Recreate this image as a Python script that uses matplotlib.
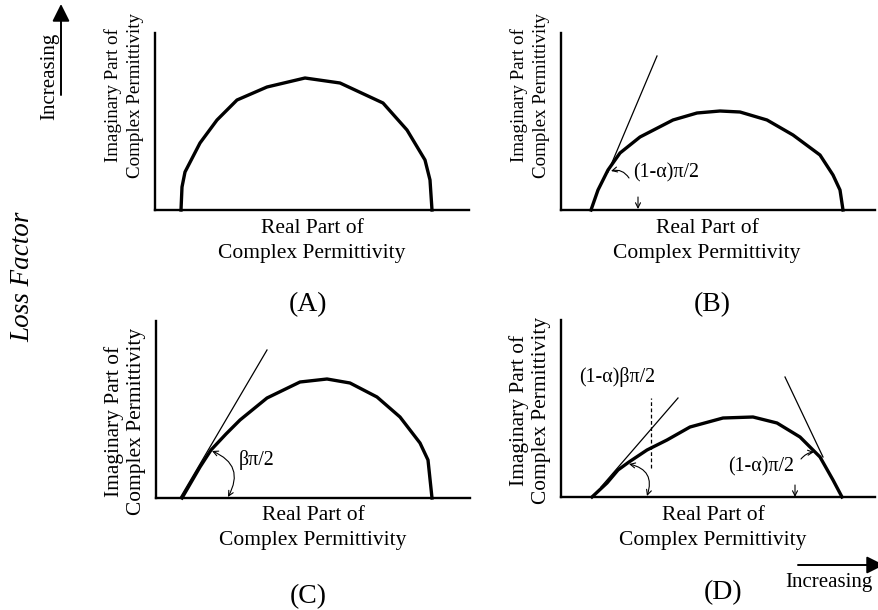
"""
Cole-Cole type plots of complex permittivity (schematic), four panels
"""

import matplotlib.pyplot as plt

# curve shapes, x = real part, y = imaginary part (arbitrary units from panel origin)
a_real = [26, 27, 30, 45, 62, 82, 112, 150, 185, 228, 252, 270, 275, 277]
a_imag = [0, 23, 38, 67, 90, 110, 123, 132, 127, 107, 80, 50, 30, 0]

b_real = [30, 37, 47, 59, 79, 112, 136, 159, 179, 206, 232, 259, 272, 279, 282]
b_imag = [0, 20, 40, 57, 73, 90, 97, 99, 98, 90, 75, 55, 35, 20, 0]

c_real = [26, 44, 55, 70, 84, 111, 144, 171, 194, 221, 244, 264, 272, 276]
c_imag = [0, 31, 48, 64, 78, 100, 116, 119, 115, 101, 81, 55, 38, 0]

d_real = [31, 46, 57, 68, 86, 106, 129, 162, 192, 216, 239, 259, 272, 281]
d_imag = [0, 14, 27, 35, 47, 57, 70, 79, 80, 74, 60, 40, 17, 0]

# tangent lines (start, end)
b_tangent = ([47, 96], [38, 154])
c_tangent = ([24, 111], [0, 148])
d_tangent_left = ([40, 117], [10, 99])
d_tangent_right = ([224, 262], [120, 40])
d_dashed = ([90, 90], [29, 99])

panel_names = ['(A)', '(B)', '(C)', '(D)']
x_label = ['Real Part of', 'Complex Permittivity']
y_label = ['Imaginary Part of', 'Complex Permittivity']

plt.rcParams['font.family'] = ['Liberation Serif', 'DejaVu Serif']

W, H = 879, 610
fig = plt.figure(figsize=(W / 100, H / 100), dpi=100)

# overlay for the outer "Increasing" arrows
over = fig.add_axes([0, 0, 1, 1])
over.set_xlim(0, W)
over.set_ylim(H, 0)
over.axis('off')


def add_panel(left, bottom, width=314, height=177):
    ax = fig.add_axes([left / W, (H - bottom) / H, width / W, height / H])
    ax.set_xlim(0, width)
    ax.set_ylim(0, height)
    for s in ['top', 'right']:
        ax.spines[s].set_visible(False)
    for s in ['left', 'bottom']:
        ax.spines[s].set_linewidth(1.7)
    ax.set_xticks([])
    ax.set_yticks([])
    ax.patch.set_alpha(0)
    return ax


def labels(ax, xc, yc, name_pos, ysize):
    ax.text(xc, -18, x_label[0], ha='center', va='center', fontsize=15.5)
    ax.text(xc, -43, x_label[1], ha='center', va='center', fontsize=15.5)
    ax.text(-42, yc, y_label[0], ha='center', va='center', rotation=90, fontsize=ysize)
    ax.text(-19, yc, y_label[1], ha='center', va='center', rotation=90, fontsize=ysize)
    ax.text(name_pos[0], name_pos[1], name_pos[2], ha='center', va='center', fontsize=20)


def small_arrow(ax, tail, head, style='->', rad=0.0):
    ax.annotate('', xy=head, xytext=tail,
                arrowprops=dict(arrowstyle=style, lw=0.8, color='black',
                                shrinkA=0, shrinkB=0, mutation_scale=9,
                                connectionstyle=f'arc3,rad={rad}'),
                annotation_clip=False)


curve_kw = dict(color='black', lw=2.4, clip_on=False, solid_joinstyle='round')
thin_kw = dict(color='black', lw=0.9, clip_on=False)

# Panel A
axA = add_panel(155, 210)
axA.plot(a_real, a_imag, **curve_kw)
labels(axA, 157, 115, (153, -95, panel_names[0]), 13.7)

# Panel B
axB = add_panel(561, 210)
axB.plot(b_real, b_imag, **curve_kw)
axB.plot(*b_tangent, **thin_kw)
axB.text(105, 37, '(1-α)π/2', ha='center', va='center', fontsize=14.4)
small_arrow(axB, (68, 32), (50, 39), rad=0.35)
small_arrow(axB, (77, 13), (77, 1))
labels(axB, 146, 115, (151, -95, panel_names[1]), 13.7)

# Panel C
axC = add_panel(156, 498)
axC.plot(c_real, c_imag, **curve_kw)
axC.plot(*c_tangent, **thin_kw)
axC.text(101, 38, 'βπ/2', ha='center', va='center', fontsize=14.4)
small_arrow(axC, (72, 1), (56, 47), style='<->', rad=0.55)
labels(axC, 157, 77, (152, -99, panel_names[2]), 15.4)

# Panel D
axD = add_panel(561, 497)
axD.plot(d_real, d_imag, **curve_kw)
axD.plot(*d_tangent_left, **thin_kw)
axD.plot(*d_tangent_right, **thin_kw)
axD.plot(*d_dashed, color='black', lw=0.9, ls=(0, (3, 2)), clip_on=False)
axD.text(56, 120, '(1-α)βπ/2', ha='center', va='center', fontsize=14.4)
axD.text(200, 30, '(1-α)π/2', ha='center', va='center', fontsize=14.4)
small_arrow(axD, (86, 1), (68, 33), style='<->', rad=0.55)
small_arrow(axD, (240, 38), (253, 45), rad=-0.2)
small_arrow(axD, (234, 12), (234, 0))
labels(axD, 152, 87, (162, -96, panel_names[3]), 15.4)

# outer annotations
fig.text(23 / W, (H - 277) / H, 'Loss Factor', rotation=90, style='italic',
         ha='center', va='center', fontsize=19.5)
over.text(50, 76, 'Increasing', rotation=90, ha='center', va='center', fontsize=15)
over.annotate('', xy=(61, 4), xytext=(61, 95),
              arrowprops=dict(arrowstyle='-|>,head_length=0.7,head_width=0.35',
                              lw=1.4, color='black', shrinkA=0, shrinkB=0,
                              mutation_scale=15))
over.text(829, 583, 'Increasing', ha='center', va='center', fontsize=15)
over.annotate('', xy=(884, 565), xytext=(798, 565),
              arrowprops=dict(arrowstyle='-|>,head_length=0.7,head_width=0.35',
                              lw=1.4, color='black', shrinkA=0, shrinkB=0,
                              mutation_scale=15),
              annotation_clip=False)

plt.savefig('out.png', dpi=100)
plt.close()
